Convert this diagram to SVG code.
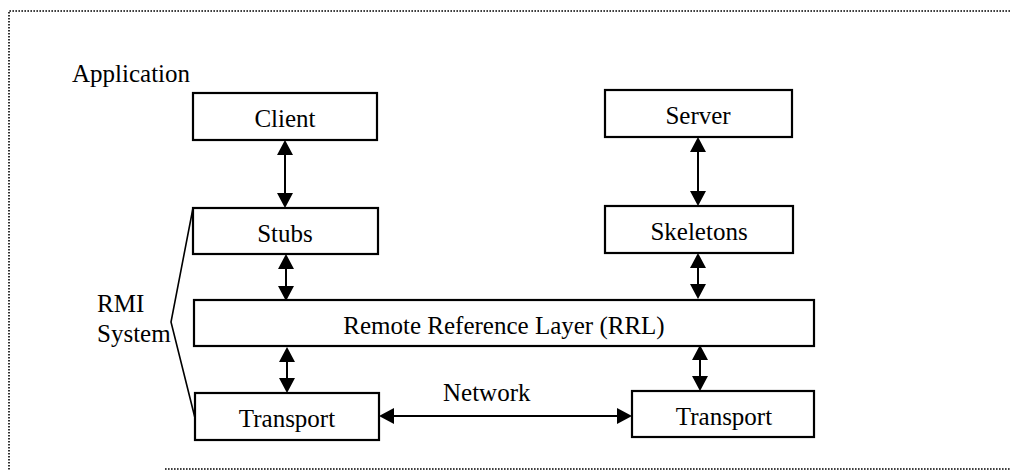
<svg xmlns="http://www.w3.org/2000/svg" width="1015" height="473" viewBox="0 0 1015 473">
  <style>
    .box { fill: #fff; stroke: #000; stroke-width: 2.2; }
    .lbl { font-family: "Liberation Serif", "Times New Roman", serif; font-size: 25px; fill: #000; }
    .mid { text-anchor: middle; }
    .link { stroke: #000; stroke-width: 2; fill: none; marker-start: url(#head); marker-end: url(#head); }
    .frame { stroke: #000; stroke-width: 1.6; stroke-dasharray: 1.6 1.4; fill: none; }
  </style>
  <defs>
    <!-- solid triangular arrowhead, 15 long and 16 wide -->
    <marker id="head" markerUnits="userSpaceOnUse" markerWidth="16" markerHeight="17" refX="11" refY="8" orient="auto-start-reverse">
      <path d="M0,0 L15,8 L0,16 Z" fill="#000"/>
    </marker>
  </defs>

  <rect width="1015" height="473" fill="#fff"/>

  <!-- dotted outer frame -->
  <g id="frame">
    <path class="frame" d="M1010,11 L9,11 L9,471"/>
    <path class="frame" d="M165,469 L1010,469"/>
  </g>

  <!-- free labels -->
  <g id="labels">
    <text class="lbl" x="72" y="82">Application</text>
    <text class="lbl" x="97" y="312">RMI</text>
    <text class="lbl" x="97" y="342">System</text>
    <text class="lbl" x="443" y="401">Network</text>
  </g>

  <!-- RMI system bracket -->
  <g id="bracket">
    <path d="M193,208 L171,322 L195,418" stroke="#000" stroke-width="1.6" fill="none"/>
  </g>

  <!-- connectors -->
  <g id="connectors">
    <line class="link" x1="285" y1="144" x2="285" y2="204"/>
    <line class="link" x1="286" y1="258" x2="286" y2="297"/>
    <line class="link" x1="287" y1="351" x2="287" y2="389"/>
    <line class="link" x1="698" y1="141" x2="698" y2="202"/>
    <line class="link" x1="698" y1="257" x2="698" y2="295"/>
    <line class="link" x1="700" y1="349" x2="700" y2="387"/>
    <line class="link" x1="383" y1="416" x2="628" y2="416"/>
  </g>

  <g id="client">
    <rect class="box" x="193" y="93" width="184" height="47"/>
    <text class="lbl mid" x="285" y="127">Client</text>
  </g>
  <g id="stubs">
    <rect class="box" x="193" y="208" width="185" height="46"/>
    <text class="lbl mid" x="285" y="242">Stubs</text>
  </g>
  <g id="server">
    <rect class="box" x="605" y="90" width="187" height="47"/>
    <text class="lbl mid" x="698" y="124">Server</text>
  </g>
  <g id="skeletons">
    <rect class="box" x="605" y="206" width="188" height="47"/>
    <text class="lbl mid" x="699" y="240">Skeletons</text>
  </g>
  <g id="rrl">
    <rect class="box" x="194" y="300" width="620" height="46"/>
    <text class="lbl mid" x="504" y="334">Remote Reference Layer (RRL)</text>
  </g>
  <g id="transport-left">
    <rect class="box" x="195" y="393" width="184" height="47"/>
    <text class="lbl mid" x="287" y="427">Transport</text>
  </g>
  <g id="transport-right">
    <rect class="box" x="632" y="391" width="182" height="46"/>
    <text class="lbl mid" x="724" y="425">Transport</text>
  </g>
</svg>
